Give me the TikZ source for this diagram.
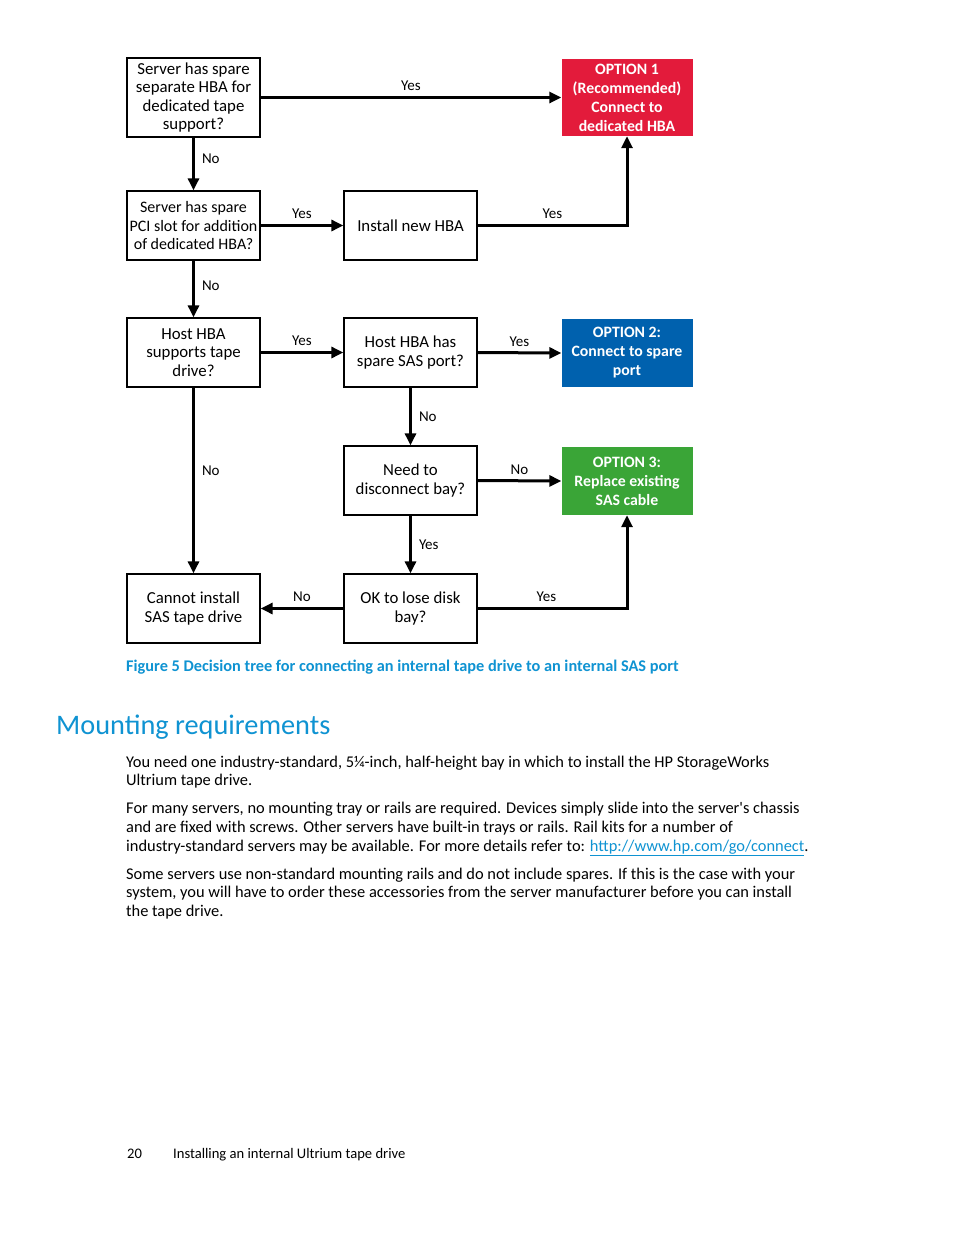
\documentclass[tikz,border=0pt]{standalone}
\usepackage{fontspec}
\setmainfont{Carlito}
\usetikzlibrary{arrows.meta}
\definecolor{optred}{HTML}{E31B3B}
\definecolor{optblue}{HTML}{0061AE}
\definecolor{optgreen}{HTML}{3AA537}
\definecolor{hpblue}{HTML}{0F93D2}
\begin{document}
\begin{tikzpicture}[x=1pt,y=-1pt,
  box/.style={draw, line width=1.3pt, minimum width=133pt, minimum height=69pt, align=center, inner sep=1pt, font=\fontsize{16.8}{18.5}\selectfont},
  opt/.style={fill=#1, text=white, minimum width=131pt, minimum height=69pt, align=center, inner sep=1pt, font=\fontsize{15.8}{19}\selectfont\bfseries},
  arr/.style={line width=3pt, -{Triangle[length=12pt,width=11pt]}},
  lab/.style={font=\fontsize{15}{15}\selectfont, inner sep=2pt},
  body/.style={anchor=base west, inner sep=0pt, font=\fontsize{16.4}{16.4}\selectfont}]
\useasboundingbox[fill=white] (0,0) rectangle (954,1235);
% nodes
\node[box, minimum height=79pt] (b1) at (193.5,97.5) {Server has spare\\separate HBA for\\dedicated tape\\support?};
\node[opt=optred, minimum height=77pt] (o1) at (627,97.5) {OPTION 1\\(Recommended)\\Connect to\\dedicated HBA};
\node[box, inner sep=0pt, font=\fontsize{16}{18.5}\selectfont] (b2) at (193.5,225.5) {Server has spare\\PCI slot for addition\\of dedicated HBA?};
\node[box] (inst) at (410.5,225.5) {Install new HBA};
\node[box] (b3) at (193.5,352.5) {Host HBA\\supports tape\\drive?};
\node[box] (hh) at (410.5,352.5) {Host HBA has\\spare SAS port?};
\node[opt=optblue, minimum height=68pt] (o2) at (627,353) {OPTION 2:\\Connect to spare\\port};
\node[box] (nd) at (410.5,480.5) {Need to\\disconnect bay?};
\node[opt=optgreen, minimum height=68pt] (o3) at (627,481) {OPTION 3:\\Replace existing\\SAS cable};
\node[box] (ci) at (193.5,608.5) {Cannot install\\SAS tape drive};
\node[box] (ok) at (410.5,608.5) {OK to lose disk\\bay?};
% connectors
\draw[arr] (b1.east) -- node[lab, above=3pt]{Yes} (o1.west);
\draw[arr] (b1.south) -- node[lab, right=5pt, pos=0.4]{No} (b2.north);
\draw[arr] (b2.east) -- node[lab, above=3pt]{Yes} (inst.west);
\draw[arr] (inst.east) -| node[lab, pos=0.25, above=3pt]{Yes} (o1.south);
\draw[arr] (b2.south) -- node[lab, right=5pt, pos=0.45]{No} (b3.north);
\draw[arr] (b3.east) -- node[lab, above=3pt]{Yes} (hh.west);
\draw[arr] (hh.east) -- node[lab, above=3pt]{Yes} (o2.west);
\draw[arr] (hh.south) -- node[lab, right=5pt]{No} (nd.north);
\draw[arr] (b3.south) -- node[lab, right=5pt, pos=0.45]{No} (ci.north);
\draw[arr] (nd.east) -- node[lab, above=3pt]{No} (o3.west);
\draw[arr] (nd.south) -- node[lab, right=5pt]{Yes} (ok.north);
\draw[arr] (ok.west) -- node[lab, above=3pt]{No} (ci.east);
\draw[arr] (ok.east) -| node[lab, pos=0.23, above=3pt]{Yes} (o3.south);
% caption and text
\node[anchor=base west, inner sep=0pt, text=hpblue, font=\fontsize{16.3}{16.3}\selectfont\bfseries] (cap) at (126,671) {Figure 5 Decision tree for connecting an internal tape drive to an internal SAS port};
\node[anchor=base west, inner sep=0pt, text=hpblue, font=\fontsize{28.3}{28.3}\selectfont] (head) at (56,734) {Mounting requirements};
\node[body] (t1) at (126,767) {You need one industry-standard, 5¼-inch, half-height bay in which to install the HP StorageWorks};
\node[body] (t2) at (126,785) {Ultrium tape drive.};
\node[body] (t3) at (126,813) {For many servers, no mounting tray or rails are required. Devices simply slide into the server\textquotesingle s chassis};
\node[body] (t4) at (126,832) {and are fixed with screws. Other servers have built-in trays or rails. Rail kits for a number of};
\node[body] (t5) at (126,851) {industry-standard servers may be available. For more details refer to: \textcolor{hpblue}{\underline{http://www.hp.com/go/connect}}.};
\node[body] (t6) at (126,879) {Some servers use non-standard mounting rails and do not include spares. If this is the case with your};
\node[body] (t7) at (126,897) {system, you will have to order these accessories from the server manufacturer before you can install};
\node[body] (t8) at (126,916) {the tape drive.};
\node[anchor=base west, inner sep=0pt, font=\fontsize{14.6}{14.6}\selectfont] (pg) at (127,1158) {20};
\node[anchor=base west, inner sep=0pt, font=\fontsize{14.6}{14.6}\selectfont] (ft) at (173,1158) {Installing an internal Ultrium tape drive};
\end{tikzpicture}
\end{document}
